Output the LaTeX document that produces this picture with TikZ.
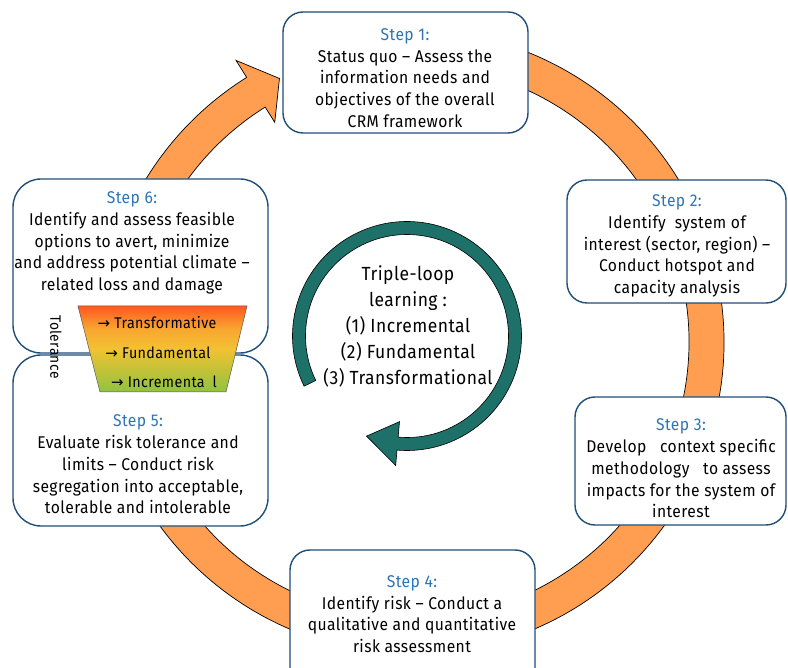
\documentclass[tikz,border=0pt]{standalone}
\usepackage{fontspec}
\setmainfont{Fira Sans}[FakeStretch=0.92, LetterSpace=2.5]
\newfontfamily\symfont{DejaVu Sans}
\usetikzlibrary{calc}
\definecolor{ringorange}{HTML}{FF9E50}
\definecolor{loopteal}{HTML}{1E7168}
\definecolor{titleblue}{HTML}{2E75B6}
\definecolor{boxblue}{HTML}{1F4E79}
\definecolor{tolred}{HTML}{FF3A1C}
\definecolor{tolorange}{HTML}{F9A530}
\definecolor{tolyellow}{HTML}{F2C232}
\definecolor{tolgreen}{HTML}{84C341}
\pgfdeclareverticalshading{tolshade}{100bp}{color(0bp)=(tolgreen); color(22bp)=(tolgreen); color(50bp)=(tolyellow); color(62bp)=(tolorange); color(80bp)=(tolred); color(100bp)=(tolred)}
\newcommand{\stitle}[1]{{\color{titleblue}#1}}
\newcommand{\rarr}{{\symfont\fontsize{15}{15}\selectfont →}}
\begin{document}
\begin{tikzpicture}[x=1pt,y=-1pt,
  stepbox/.style={draw=boxblue, line width=1.4pt, fill=white, rounded corners=20pt, inner sep=0pt},
  steptext/.style={align=center, inner sep=0pt, font=\fontsize{17}{21.7}\selectfont},
  ringstyle/.style={fill=ringorange, draw=black, line width=0.7pt, line join=miter},
  loopstyle/.style={fill=loopteal, draw=black, line width=0.6pt},
  toltext/.style={inner sep=0pt, font=\fontsize{15.5}{17}\selectfont}]
\useasboundingbox (0,0) rectangle (788,668);
\clip (0,0) rectangle (788,668);
\fill[white] (0,0) rectangle (788,668);
% big orange cycle arrow
\coordinate (oc) at (412,342);
\draw[ringstyle] ($(oc)+(-100:312)$) arc[start angle=-100, end angle=238, radius=312]
  -- ($(oc)+(238:332)$) -- ($(oc)+(243.3:295)$) -- ($(oc)+(238:259)$)
  -- ($(oc)+(238:277)$) arc[start angle=238, end angle=-100, radius=277] -- cycle;
% teal triple-loop arrow
\coordinate (tc) at (407,336);
\draw[loopstyle] ($(tc)+(154:114.5)$) arc[start angle=154, end angle=455, radius=114.5]
  -- ($(tc)+(455:130)$) -- ($(tc)+(472:108)$) -- ($(tc)+(455:86)$)
  -- ($(tc)+(455:101.5)$) arc[start angle=455, end angle=154, radius=101.5] -- cycle;
\node[align=center, inner sep=0pt, font=\fontsize{19}{26}\selectfont] (loop) at (408,326)
  {Triple-loop\\learning :\\(1) Incremental\\(2) Fundamental\\(3) Transformational};
% step boxes
\node[stepbox, minimum width=245pt, minimum height=121pt] (b1) at (405.5,72.5) {};
\node[stepbox, minimum width=219pt, minimum height=123pt] (b2) at (676.5,241.5) {};
\node[stepbox, minimum width=211pt, minimum height=128pt] (b3) at (680.5,461) {};
\node[stepbox, minimum width=245pt, minimum height=140pt] (b4) at (412.5,620) {};
\node[stepbox, rounded corners=28pt, minimum width=255pt, minimum height=174pt] (b6) at (140.5,266) {};
\node[stepbox, rounded corners=28pt, minimum width=255pt, minimum height=171pt] (b5) at (140.5,440.5) {};
\node[steptext] (t1) at (405,78) {\stitle{Step 1:}\\Status quo -- Assess the\\information needs and\\objectives of the overall\\CRM framework};
\node[steptext] (t2) at (677,246) {\stitle{Step 2:}\\Identify\ \ system of\\interest (sector, region) --\\Conduct hotspot and\\capacity analysis};
\node[steptext] (t3) at (681,468.5) {\stitle{Step 3:}\\Develop\ \ \ context specific\\methodology\ \ \ to assess\\impacts for the system of\\interest};
\node[steptext] (t4) at (412,614) {\stitle{Step 4:}\\Identify risk -- Conduct a\\qualitative and quantitative\\risk assessment};
\node[steptext] (t5) at (138,464.5) {\stitle{Step 5:}\\Evaluate risk tolerance and\\limits -- Conduct risk\\segregation into acceptable,\\tolerable and intolerable};
\node[steptext] (t6) at (132,243) {\stitle{Step 6:}\\Identify and assess feasible\\options to avert, minimize\\and address potential climate --\\related loss and damage};
% tolerance funnel
\coordinate (f1) at (78,306);
\coordinate (f2) at (247,306);
\coordinate (f3) at (226,392);
\coordinate (f4) at (100,392);
\shade[shading=tolshade, draw=gray!70!black, line width=0.5pt] (f1) -- (f2) -- (f3) -- (f4) -- cycle;
\node[toltext] (ft) at (157,323) {\rarr\ Transformative};
\node[toltext] (ff) at (158,353) {\rarr\ Fundamental};
\node[toltext] (fi) at (164,382) {\rarr\ Incrementa\hspace{8pt}l};
\node[toltext, rotate=-90, font=\fontsize{15}{16}\selectfont] (tol) at (56,347) {Tolerance};
\end{tikzpicture}
\end{document}
